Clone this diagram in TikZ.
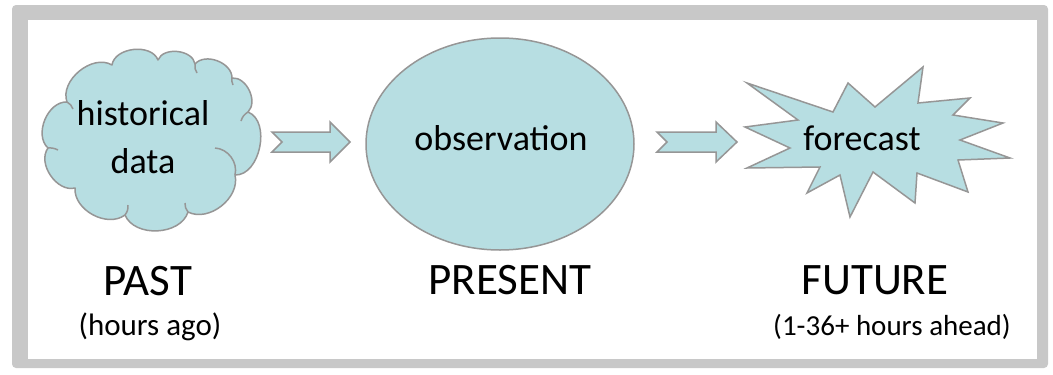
\documentclass[tikz,border=0pt]{standalone}
\usepackage{fontspec}
\setmainfont{Carlito}
\usetikzlibrary{shapes.geometric}
\definecolor{shapefill}{RGB}{183,222,226}
\definecolor{shapeline}{RGB}{150,150,150}
\definecolor{framegray}{RGB}{200,200,200}
\tikzset{
  shapestyle/.style={fill=shapefill, draw=shapeline, line width=1.5pt, line join=miter},
  innerline/.style={draw=shapeline, line width=1.5pt},
  inner/.style={font=\fontsize{36}{44}\selectfont, anchor=base, inner sep=0pt},
  big/.style={font=\fontsize{45}{54}\selectfont, anchor=base, inner sep=0pt},
  small/.style={font=\fontsize{30}{36}\selectfont, anchor=base, inner sep=0pt},
}
\begin{document}
\begin{tikzpicture}[x=1pt,y=-1pt]
\useasboundingbox (0,0) rectangle (1053,375);
\fill[white] (0,0) rectangle (1053,375);
% frame
\fill[framegray, rounded corners=4pt] (12,5) rectangle (1048,368);
\fill[white] (28,20) rectangle (1037,359);
% cloud
\coordinate (past) at (150,141);
\filldraw[shapestyle, line join=round]
  (67,102) to[bend left=70] (112,65) to[bend left=75] (158,60)
  to[bend left=75] (195,64) to[bend left=70] (232,78)
  to[bend left=70] (248,112) to[bend left=80] (235,175)
  to[bend left=65] (188,212) to[bend left=70] (125,215)
  to[bend left=65] (75,188) to[bend left=70] (48,148)
  to[bend left=70] (67,102) -- cycle;
\draw[innerline] (67,102) to[bend left=20] (73,109);
\draw[innerline] (195,64) to[bend right=20] (197,73);
\draw[innerline] (232,78) to[bend right=15] (233,85);
\draw[innerline] (248,112) to[bend right=20] (241,121);
\draw[innerline] (215,148) to[bend left=50] (235,175);
\draw[innerline] (188,212) to[bend left=20] (185,203);
\draw[innerline] (125,215) to[bend right=20] (128,205);
\draw[innerline] (48,148) to[bend left=15] (58,150);
\node[inner] (hist) at (143,125) {historical};
\node[inner] (data) at (143,173) {data};
% ellipse
\node[ellipse, shapestyle, minimum width=268pt, minimum height=212pt, inner sep=0pt] (present) at (500,144) {};
\node[inner] (obs) at (501,150) {observation};
% star
\coordinate (fc) at (875,140);
\filldraw[shapestyle] (745,127) -- (798,120) -- (747,83) -- (833,112) -- (848,83) -- (875,107) -- (923,67) -- (918,103) -- (970,98) -- (953,115) -- (1003,123) -- (960,140) -- (1010,158) -- (958,160) -- (968,192) -- (917,173) -- (915,203) -- (873,172) -- (850,217) -- (840,175) -- (807,193) -- (820,167) -- (747,168) -- (790,148) -- cycle;
\node[inner] (fore) at (862,150) {forecast};
% arrows
\coordinate (a1) at (272,142);
\coordinate (a2) at (657,142);
\foreach \c/\len/\hd in {a1/78/20, a2/80/21}{
  \filldraw[shapestyle] (\c) ++(0,-10) -- ++(\len-\hd,0) -- ++(0,-10) -- ++(\hd,20) -- ++(-\hd,20) -- ++(0,-10) -- ++(-\len+\hd,0) -- ++(10,-10) -- cycle;
}
% labels
\node[big] (l1) at (148,295) {PAST};
\node[small, font=\fontsize{31}{36}\selectfont] (l1b) at (150,335) {(hours ago)};
\node[big] (l2) at (510,294) {PRESENT};
\node[big] (l3) at (875,294) {FUTURE};
\node[small, font=\fontsize{29}{36}\selectfont] (l3b) at (892,335) {(1-36+ hours ahead)};
\end{tikzpicture}
\end{document}
